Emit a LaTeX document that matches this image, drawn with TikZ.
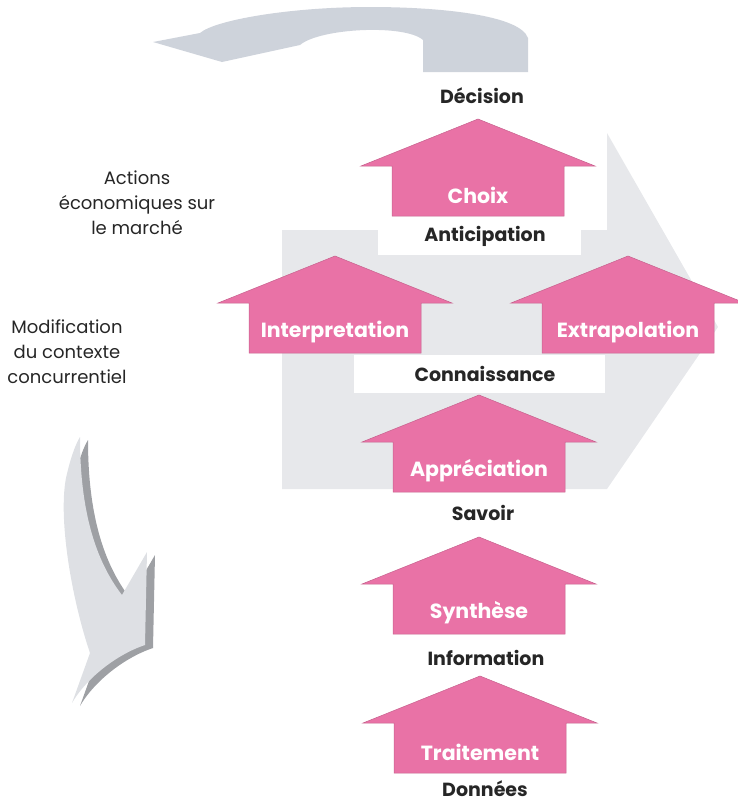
\documentclass[tikz,border=0pt]{standalone}
\usepackage{fontspec}
\setmainfont{Poppins}
\usetikzlibrary{positioning}
\definecolor{mypink}{RGB}{233,114,166}
\definecolor{mygray}{RGB}{206,211,219}
\definecolor{mylight}{RGB}{231,232,235}
\definecolor{myface}{RGB}{222,224,228}
\definecolor{mydark}{RGB}{158,160,164}

\begin{document}
\begin{tikzpicture}[x=1pt,y=-1pt,
	every node/.style={inner sep=0pt},
	levelnode/.style={font=\fontsize{19}{22}\selectfont\bfseries,text=black!85},
	actnode/.style={font=\fontsize{20.5}{23}\selectfont\bfseries,text=white},
	sidenode/.style={font=\fontsize{18}{25}\selectfont,align=center,text=black!85},
	housefill/.style={fill=mypink,draw=mypink!85!black,line width=0.5pt},
	]
	\useasboundingbox (0,0) rectangle (738,804);
	
	% the big arrow behind
	\fill[mylight] (282,230) -- (607,230) -- (607,133) -- (718,327) -- (607,489) -- (282,489) -- cycle;
	\fill[white] (378,213) rectangle (581,255);
	\fill[white] (354,355) rectangle (605,393);
	
	% the loop arrow on top
	\fill[mygray] (528,72) -- (528,38) .. controls (520,15) and (440,7) .. (370,7)
	  .. controls (290,7) and (215,20) .. (200,33) -- (153,42) -- (222,62) -- (300,45)
	  .. controls (320,28) and (405,24) .. (423,40) -- (423,72) -- cycle;
	
	% the bent arrow on the left
	\begin{scope}[xshift=8pt,yshift=-3pt]
	\fill[mydark] (80,437) .. controls (80,510) and (95,560) .. (122,595) -- (147,552)
	  -- (145,645) .. controls (115,655) and (85,680) .. (72,703) -- (90,653)
	  .. controls (72,600) and (58,520) .. (66,478) .. controls (70,460) and (75,445) .. (80,437) -- cycle;
	\end{scope}
	\fill[myface] (80,437) .. controls (80,510) and (95,560) .. (122,595) -- (147,552)
	  -- (145,645) .. controls (115,655) and (85,680) .. (72,703) -- (90,653)
	  .. controls (72,600) and (58,520) .. (66,478) .. controls (70,460) and (75,445) .. (80,437) -- cycle;
	
	% the steps
	\foreach \nm/\cx/\ay/\txt in {choix/478/119/Choix,interp/335/256/Interpretation,
	  extrap/628/256/Extrapolation,apprec/479/395/Appréciation,
	  synth/479/537/Synthèse,trait/480/676/Traitement}{
	  \filldraw[housefill] (\cx,\ay) -- (\cx+117,\ay+47) -- (\cx+86,\ay+47) -- (\cx+86,\ay+97)
	    -- (\cx-86,\ay+97) -- (\cx-86,\ay+47) -- (\cx-117,\ay+47) -- cycle;
	  \node[actnode] (\nm) at (\cx,\ay+76) {\txt};
	}
	
	% the levels
	\foreach \nm/\x/\y/\txt in {dec/482/96/Décision,antic/485/236/Anticipation,
	  conn/485/374/Connaissance,sav/483/513/Savoir,info/486/658/Information,don/485/789/Données}
	  \node[levelnode] (\nm) at (\x,\y) {\txt};
	
	% the side texts
	\node[sidenode] (actions) at (137,203) {Actions\\économiques sur\\le marché};
	\node[sidenode] (modif) at (67,352) {Modification\\du contexte\\concurrentiel};
\end{tikzpicture}
\end{document}
